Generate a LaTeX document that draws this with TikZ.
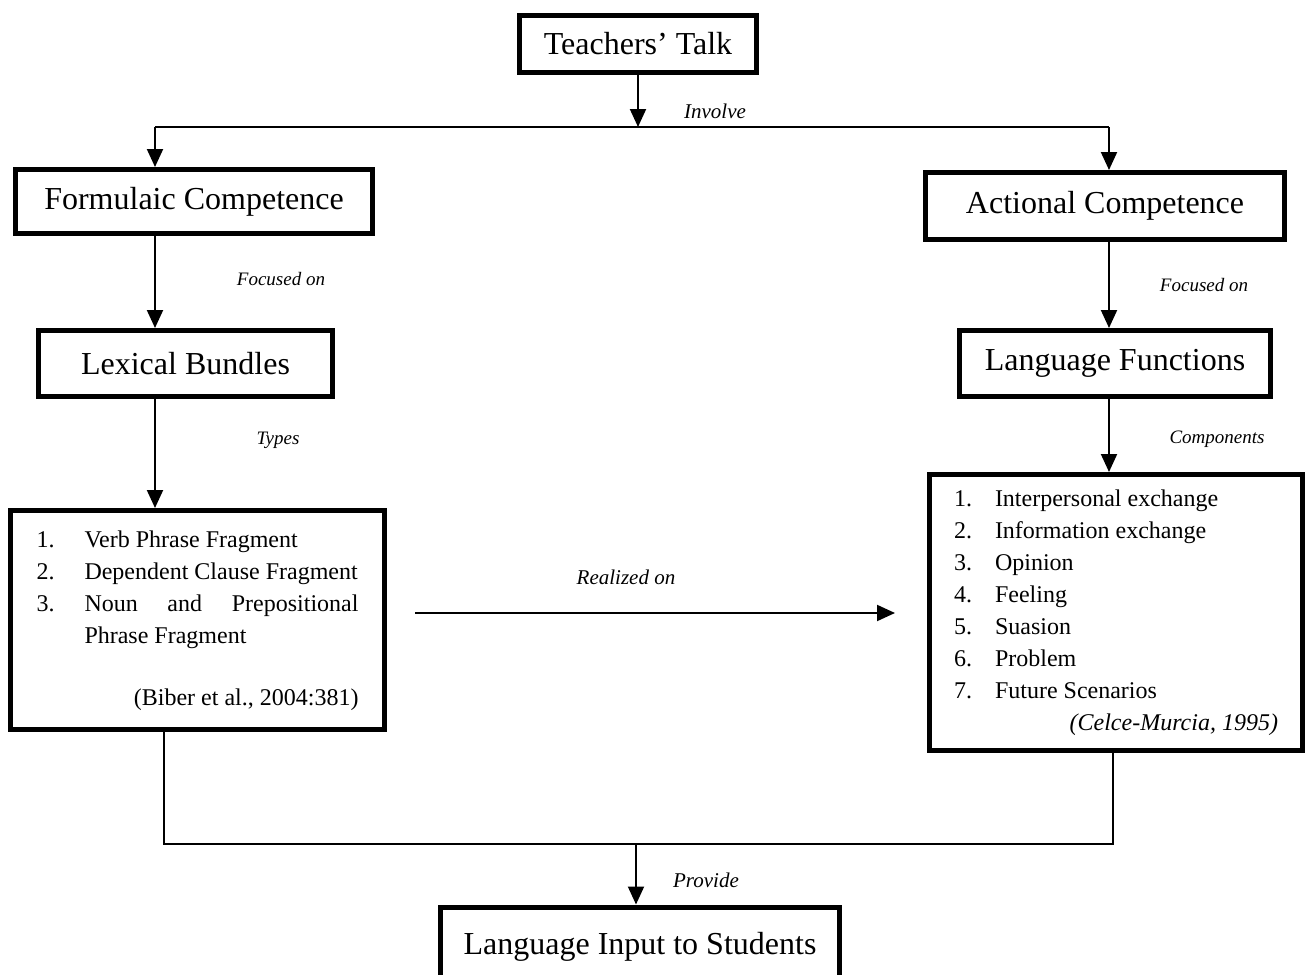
\documentclass[tikz,border=0pt]{standalone}
\usepackage{fontspec}
\setmainfont{Liberation Serif}
\usetikzlibrary{arrows.meta,positioning,calc}
\tikzset{
  boxnd/.style={draw, line width=5pt, inner sep=0pt, font=\fontsize{32}{38}\selectfont},
  listnd/.style={draw, line width=5pt, inner sep=0pt, font=\fontsize{24}{32}\selectfont},
  flowln/.style={-{Triangle[length=18pt,width=16pt]}, line width=2pt},
  joinln/.style={line width=2pt},
  lbl/.style={font=\fontsize{19}{22}\selectfont\itshape},
  biglbl/.style={font=\fontsize{21}{24}\selectfont\itshape},
}

\begin{document}
\begin{tikzpicture}[x=1pt,y=-1pt]
    \useasboundingbox (0,0) rectangle (1311,974);
    \clip (0,0) rectangle (1311,974);
    % boxes
    \node[boxnd, minimum width=237pt, minimum height=57pt] (talk) at (638,44) {Teachers’ Talk};
    \node[boxnd, minimum width=357pt, minimum height=64pt] (formulaic) at (194,201.5) {Formulaic Competence};
    \node[boxnd, minimum width=294pt, minimum height=66pt] (lexical) at (185.5,363.5) {Lexical Bundles};
    \node[boxnd, minimum width=359pt, minimum height=67pt] (actional) at (1105,206) {Actional Competence};
    \node[boxnd, minimum width=311pt, minimum height=66pt] (funcs) at (1115,363.5) {Language Functions};
    \node[boxnd, minimum width=399pt, minimum height=80pt] (input) at (640,947) {Language Input to Students};
    % lists
    \node[listnd, minimum width=374pt, minimum height=219pt] (types) at (197.5,620) {%
      \begin{tabular}{@{}p{48pt}@{}l@{}}
        1. & Verb Phrase Fragment\\
        2. & Dependent Clause Fragment\\
        3. & \hbox to 274pt{Noun\hfill and\hfill Prepositional}\\
           & Phrase Fragment\\[30pt]
        \multicolumn{2}{r@{}}{(Biber et al., 2004:381)}
      \end{tabular}};
    \node[listnd, minimum width=373pt, minimum height=276pt] (comps) at (1116,612.5) {%
      \begin{tabular}{@{}p{41pt}@{}p{283pt}@{}}
        1. & Interpersonal exchange\\
        2. & Information exchange\\
        3. & Opinion\\
        4. & Feeling\\
        5. & Suasion\\
        6. & Problem\\
        7. & Future Scenarios\\
        \multicolumn{2}{r@{}}{\textit{(Celce-Murcia, 1995)}}
      \end{tabular}};
    % split below the top box
    \coordinate (splitL) at (155,127);
    \coordinate (splitR) at (1109,127);
    \draw[joinln] (splitL) -- (splitR);
    \draw[flowln] (talk) -- (talk |- splitL);
    \draw[flowln] (splitL) -- (splitL |- formulaic.north);
    \draw[flowln] (splitR) -- (splitR |- actional.north);
    \node[biglbl] (involve) at (715,111) {Involve};
    % left column
    \draw[flowln] (formulaic.south -| splitL) -- (lexical.north -| splitL);
    \draw[flowln] (lexical.south -| splitL) -- (types.north -| splitL);
    \node[lbl] (focusL) at (281,279) {Focused on};
    \node[lbl] (typeslbl) at (278,440) {Types};
    % right column
    \draw[flowln] (actional.south -| splitR) -- (funcs.north -| splitR);
    \draw[flowln] (funcs.south -| splitR) -- (comps.north -| splitR);
    \node[lbl] (focusR) at (1204,285) {Focused on};
    \node[lbl] (complbl) at (1217,439) {Components};
    % across
    \coordinate (realize) at (0,613);
    \draw[flowln, shorten <=28pt, shorten >=32pt] (types.east |- realize) -- (comps.west |- realize);
    \node[biglbl] (realizelbl) at (626,577) {Realized on};
    % merge into the bottom box
    \coordinate (mergeL) at (164,844);
    \coordinate (mergeR) at (1113,844);
    \coordinate (merge) at (636,844);
    \draw[joinln] (types.south -| mergeL) -- (mergeL) -- (mergeR) -- (comps.south -| mergeR);
    \draw[flowln] (merge) -- (merge |- input.north);
    \node[biglbl] (providelbl) at (706,880) {Provide};
\end{tikzpicture}
\end{document}
